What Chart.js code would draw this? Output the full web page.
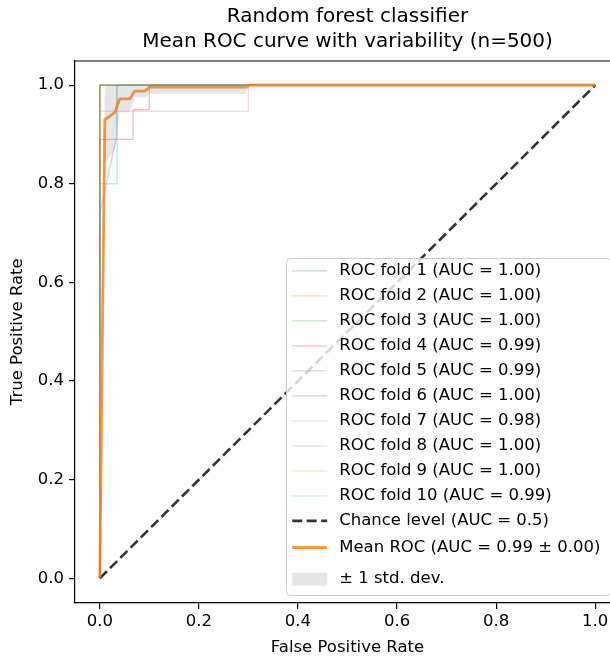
<!DOCTYPE html>
<html>
<head>
<meta charset="utf-8">
<script src="https://cdn.jsdelivr.net/npm/chart.js@4"></script>
<style>
html,body{margin:0;padding:0;overflow:hidden;background:#fff;width:610px;height:656px}
#wrap{position:relative;width:640px;height:656px}
</style>
</head>
<body>
<div id="wrap"><canvas id="c" width="640" height="656"></canvas></div>
<script>
// ---------------- data ----------------
const titleLines = ["Random forest classifier", "Mean ROC curve with variability (n=500)"];
const xTitle = "False Positive Rate";
const yTitle = "True Positive Rate";
const xTicks = [0.0, 0.2, 0.4, 0.6, 0.8, 1.0];
const yTicks = [0.0, 0.2, 0.4, 0.6, 0.8, 1.0];

const foldLabels = [
  "ROC fold 1 (AUC = 1.00)", "ROC fold 2 (AUC = 1.00)", "ROC fold 3 (AUC = 1.00)",
  "ROC fold 4 (AUC = 0.99)", "ROC fold 5 (AUC = 0.99)", "ROC fold 6 (AUC = 1.00)",
  "ROC fold 7 (AUC = 0.98)", "ROC fold 8 (AUC = 1.00)", "ROC fold 9 (AUC = 1.00)",
  "ROC fold 10 (AUC = 0.99)"
];
const fold1Fpr = [0, 0, 1];                         const fold1Tpr = [0, 1, 1];
const fold2Fpr = [0, 0, 1];                         const fold2Tpr = [0, 1, 1];
const fold3Fpr = [0, 0, 1];                         const fold3Tpr = [0, 1, 1];
const fold4Fpr = [0, 0, 0.067, 0.067, 0.1, 0.1, 1]; const fold4Tpr = [0, 0.89, 0.89, 0.95, 0.95, 1, 1];
const fold5Fpr = [0, 0, 0.034, 0.034, 1];           const fold5Tpr = [0, 0.74, 0.895, 1, 1];
const fold6Fpr = [0, 0, 1];                         const fold6Tpr = [0, 1, 1];
const fold7Fpr = [0, 0, 0.3, 0.3, 1];               const fold7Tpr = [0, 0.947, 0.947, 1, 1];
const fold8Fpr = [0, 0, 1];                         const fold8Tpr = [0, 1, 1];
const fold9Fpr = [0, 0, 1];                         const fold9Tpr = [0, 1, 1];
const fold10Fpr = [0, 0, 0.035, 0.035, 1];          const fold10Tpr = [0, 0.8, 0.8, 1, 1];

const chanceLabel = "Chance level (AUC = 0.5)";
const chanceFpr = [0, 1];
const chanceTpr = [0, 1];

const meanLabel = "Mean ROC (AUC = 0.99 \u00b1 0.00)";
const meanFpr = [0, 0.0101, 0.0202, 0.0303, 0.0404, 0.0606, 0.0707, 0.0909, 0.1010, 0.2929, 0.3030, 1.0];
const meanTpr = [0, 0.930, 0.937, 0.945, 0.972, 0.972, 0.988, 0.988, 0.996, 0.996, 1.0, 1.0];

const stdLabel = "\u00b1 1 std. dev.";
const stdUpper = [0, 1, 1, 1, 1, 1, 1, 1, 1, 1, 1, 1];
const stdLower = [0, 0.84, 0.855, 0.87, 0.945, 0.945, 0.975, 0.975, 0.982, 0.982, 1.0, 1.0];

// ---------------- styles ----------------
const FONT = '"DejaVu Sans", "Liberation Sans", sans-serif';
const tab10 = ["#1f77b4","#ff7f0e","#2ca02c","#d62728","#9467bd","#8c564b","#e377c2","#7f7f7f","#bcbd22","#17becf"];
function rgba(hex, a){
  const n = parseInt(hex.slice(1), 16);
  return `rgba(${(n>>16)&255},${(n>>8)&255},${n&255},${a})`;
}
function pts(xs, ys){ return xs.map((x, i) => ({x: x, y: ys[i]})); }

const foldFprs = [fold1Fpr, fold2Fpr, fold3Fpr, fold4Fpr, fold5Fpr, fold6Fpr, fold7Fpr, fold8Fpr, fold9Fpr, fold10Fpr];
const foldTprs = [fold1Tpr, fold2Tpr, fold3Tpr, fold4Tpr, fold5Tpr, fold6Tpr, fold7Tpr, fold8Tpr, fold9Tpr, fold10Tpr];

const datasets = [];
foldLabels.forEach((lab, i) => {
  datasets.push({
    label: lab, data: pts(foldFprs[i], foldTprs[i]),
    borderColor: rgba(tab10[i], 0.3), borderWidth: 1.4, pointRadius: 0,
    borderJoinStyle: 'round', fill: false, tension: 0, _kind: 'line'
  });
});
datasets.push({
  label: chanceLabel, data: pts(chanceFpr, chanceTpr),
  borderColor: 'rgba(0,0,0,0.8)', borderWidth: 2.6, borderDash: [10, 4.5],
  pointRadius: 0, fill: false, tension: 0, _kind: 'dash'
});
datasets.push({
  label: meanLabel, data: pts(meanFpr, meanTpr),
  borderColor: rgba("#ff7f0e", 0.8), borderWidth: 2.8, borderJoinStyle: 'round',
  pointRadius: 0, fill: false, tension: 0, _kind: 'line'
});
const lowerIndex = datasets.length;
datasets.push({
  label: '_lower', data: pts(meanFpr, stdLower),
  borderColor: 'rgba(0,0,0,0)', borderWidth: 0, pointRadius: 0, fill: false, tension: 0, _kind: 'none'
});
datasets.push({
  label: stdLabel, data: pts(meanFpr, stdUpper),
  borderColor: 'rgba(0,0,0,0)', borderWidth: 0, pointRadius: 0, tension: 0,
  fill: {target: lowerIndex}, backgroundColor: 'rgba(128,128,128,0.2)', _kind: 'patch'
});
const N = datasets.length;
datasets.forEach((d, i) => { d.order = N - i; });

// ---------------- plugins ----------------
const framePlugin = {
  id: 'frameAndLegend',
  afterDraw(chart){
    const ctx = chart.ctx, a = chart.chartArea;
    ctx.save();
    // top & right spines
    ctx.strokeStyle = '#000'; ctx.lineWidth = 1.2;
    ctx.beginPath();
    ctx.moveTo(a.left, a.top + 0.5); ctx.lineTo(a.right, a.top + 0.5); ctx.lineTo(a.right, a.bottom);
    ctx.stroke();

    // legend box (lower right, inside axes)
    const w = 325, h = 337;
    const bx = a.right - 8.3 - w, by = a.bottom - 8.3 - h;
    ctx.beginPath();
    ctx.roundRect(Math.round(bx) - 0.5, Math.round(by) + 0.5, w, h, 4);
    ctx.fillStyle = 'rgba(255,255,255,0.8)'; ctx.fill();
    ctx.strokeStyle = '#cccccc'; ctx.lineWidth = 1; ctx.stroke();

    const items = chart.data.datasets.filter(d => d._kind !== 'none');
    const hx0 = bx + 5.5, hx1 = bx + 40.5, tx = bx + 52.5;
    let y = by + 13.2;
    ctx.font = '16.5px ' + FONT;
    ctx.textBaseline = 'middle';
    ctx.textAlign = 'left';
    items.forEach((d, k) => {
      if (d._kind === 'patch') y += 6.7;                               // patch row is taller
      else if (k > 0 && items[k-1]._kind === 'dash') y += 1.6;         // thick line row
      if (d._kind === 'patch') {
        ctx.fillStyle = d.backgroundColor;
        ctx.fillRect(hx0, y - 6.5, hx1 - hx0, 13);
      } else {
        ctx.beginPath();
        ctx.setLineDash(d.borderDash || []);
        ctx.strokeStyle = d.borderColor; ctx.lineWidth = d.borderWidth;
        ctx.lineCap = 'butt';
        ctx.moveTo(hx0, y); ctx.lineTo(hx1, y); ctx.stroke();
        ctx.setLineDash([]);
      }
      ctx.fillStyle = '#000';
      ctx.fillText(d.label, tx, y);
      y += 25;
    });
    ctx.restore();
  }
};

// ---------------- chart ----------------
const tickFont = {family: FONT, size: 16.5};
new Chart(document.getElementById('c'), {
  type: 'line',
  data: {datasets: datasets},
  options: {
    responsive: false, animation: false, devicePixelRatio: 1,
    layout: {padding: {left: 0, right: 20, top: 0, bottom: 0}},
    plugins: {
      legend: {display: false},
      tooltip: {enabled: false},
      title: {
        display: true, text: titleLines, fullSize: false, color: '#000',
        font: {family: FONT, size: 20, weight: 'normal', lineHeight: 1.25},
        padding: {top: 4.5, bottom: 6}
      }
    },
    events: [],
    scales: {
      x: {
        type: 'linear', min: -0.05, max: 1.05,
        afterBuildTicks: s => { s.ticks = xTicks.map(v => ({value: v})); },
        afterFit: s => { s.height = 53; },
        ticks: {color: '#000', font: tickFont, padding: 3, maxRotation: 0,
                callback: v => Number(v).toFixed(1)},
        grid: {drawOnChartArea: false, drawTicks: true, tickLength: 6, color: '#000', lineWidth: 1.2},
        border: {display: true, color: '#000', width: 1.2},
        title: {display: true, text: xTitle, color: '#000',
                font: {family: FONT, size: 16.5, lineHeight: 1.0}, padding: {top: 0, bottom: 0.5}}
      },
      y: {
        type: 'linear', min: -0.05, max: 1.05,
        afterBuildTicks: s => { s.ticks = yTicks.map(v => ({value: v})); },
        afterFit: s => { s.width = 75; },
        ticks: {color: '#000', font: tickFont, padding: 5,
                callback: v => Number(v).toFixed(1)},
        grid: {drawOnChartArea: false, drawTicks: true, tickLength: 6, color: '#000', lineWidth: 1.2},
        border: {display: true, color: '#000', width: 1.2},
        title: {display: true, text: yTitle, color: '#000', font: tickFont, padding: {top: 8, bottom: 0}}
      }
    }
  },
  plugins: [framePlugin]
});
</script>
</body>
</html>
